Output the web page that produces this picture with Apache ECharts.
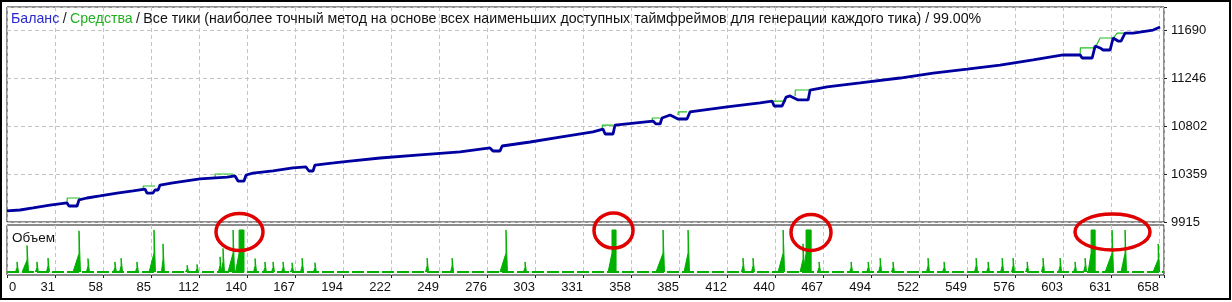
<!DOCTYPE html>
<html><head><meta charset="utf-8">
<script src="https://cdn.jsdelivr.net/npm/echarts@6/dist/echarts.min.js"></script>
<style>html,body{margin:0;padding:0;background:#fff}#c{width:1232px;height:302px}</style>
</head><body><div id="c"></div>
<script>
// X tick labels (trade number) and Y tick labels (balance)
const xTickLabels = ['0','31','58','85','112','140','167','194','222','249','276','303','331','358','385','412','440','467','494','522','549','576','603','631','658'];
const yTickLabels = ['9915','10359','10802','11246','11690'];
const yTickStep = 443.75;
const yMin = 9915;

// Balance curve: [trade index, balance]
const balance = [[3.7,10017],[11.1,10026],[18.5,10045],[28.1,10072],[37.8,10091],[38.9,10063],[43.5,10063],[44.6,10119],[49.1,10137],[56.5,10156],[66.2,10183],[75.3,10202],[82.1,10220],[83.2,10183],[86.6,10183],[87.8,10211],[89.5,10211],[90.6,10257],[97.9,10276],[113.3,10313],[128.7,10331],[133.2,10341],[134.9,10294],[138.3,10294],[139.5,10350],[143.4,10368],[154.8,10387],[166.1,10415],[173.5,10424],[175.2,10387],[177.5,10387],[178.6,10442],[189.3,10461],[198.5,10479],[215.6,10507],[238.3,10535],[261.0,10563],[278.0,10600],[279.7,10572],[283.7,10572],[284.9,10618],[300.8,10655],[317.8,10701],[336.5,10748],[342.2,10775],[343.4,10729],[347.9,10729],[349.0,10812],[370.6,10849],[372.3,10822],[374.6,10822],[375.7,10877],[380.3,10905],[384.8,10868],[389.9,10868],[391.6,10933],[412.7,10979],[431.4,11016],[438.2,11034],[439.4,10988],[443.9,10988],[446.2,11071],[448.4,11081],[453.0,11044],[458.7,11044],[459.8,11136],[469.5,11164],[488.2,11201],[510.9,11247],[529.7,11293],[549.0,11330],[567.7,11367],[586.5,11414],[603.5,11460],[613.2,11460],[614.3,11432],[620.0,11432],[621.7,11543],[624.5,11525],[626.2,11506],[630.2,11506],[631.9,11617],[634.7,11589],[636.4,11589],[638.7,11663],[643.3,11663],[654.6,11691],[658.6,11719]];

// Equity (only where it differs from balance), null breaks
const equity = [[37.8,10091],[37.9,10137],[45.2,10137],null,
  [81.0,10211],[81.1,10248],[87.8,10248],null,
  [121.8,10322],[121.9,10359],[132.1,10359],null,
  [341.7,10775],[341.8,10812],[347.9,10812],null,
  [370.1,10849],[370.2,10877],[374.6,10877],null,
  [384.8,10905],[384.9,10933],[389.9,10933],null,
  [438.2,11034],[446.2,11034],null,
  [451.3,11081],[451.4,11136],[459.8,11136],null,
  [549.0,11330],[551.8,11330],null,
  [613.2,11460],[613.3,11525],[621.7,11525],[624.5,11617],[631.9,11617],[634.2,11663],[639.9,11663]];

// Volume spikes: [start index, top start, top end, height]
const volumeSpikes = [[8.5,9.4,10.2,2.4],[12.3,15.1,15.9,6.3],[19.8,20.7,21.5,2.4],[26.1,27.0,27.8,3.3],[41.2,44.6,45.4,9.8],[48.8,49.7,50.5,3.2],[64.1,65.0,65.8,2.4],[67.6,68.5,69.3,3.3],[76.6,77.5,78.3,2.4],[84.4,87.2,88.0,10],[91.4,92.3,93.1,6.7],[105.1,106.0,106.8,1.6],[110.7,111.6,112.4,1.8],[123.8,124.7,125.5,3.6],[125.5,126.4,127.2,5.6],[129.2,132.1,132.9,10],[133.5,135.5,138.3,10],[143.7,144.6,145.4,3.2],[149.3,150.2,151.0,2.4],[153.9,154.8,155.6,2.4],[159.6,160.5,161.3,2.4],[164.7,165.6,166.4,2.2],[170.4,171.3,172.1,3.3],[177.7,178.6,179.4,2.2],[241.4,242.3,243.1,3.3],[255.6,256.5,257.3,3.3],[283.7,287.1,287.9,10],[297.0,297.9,298.7,2.4],[345.1,347.3,349.6,10],[372.3,376.3,377.1,10],[388.2,390.5,391.3,10],[420.8,421.7,422.5,3.3],[426.5,427.4,428.2,3.3],[441.6,444.5,445.3,10],[454.1,455.8,456.6,6.7],[456.0,457.5,460.4,10],[464.0,464.9,465.7,2.4],[482.2,483.1,483.9,2.4],[491.9,492.8,493.6,2.4],[498.7,499.6,500.4,3.3],[506.0,506.9,507.7,2.4],[525.9,526.8,527.6,3.3],[535.0,535.9,536.7,2.4],[553.2,554.1,554.9,3.3],[560.0,560.9,561.7,2.4],[568.0,568.9,569.7,3.3],[574.2,575.1,575.9,3.3],[582.2,583.1,583.9,2.4],[591.2,592.1,592.9,3.3],[600.9,601.8,602.6,3.3],[609.4,610.3,611.1,2.4],[615.1,616.0,616.8,3.3],[617.7,619.4,621.7,10],[627.4,631.3,632.1,10],[636.4,638.7,639.5,10],[654.6,657.5,658.3,6.7]];

const xMin = 3.7, xMax = 660.8;

const volLine = [];
volumeSpikes.forEach(s => {
  volLine.push([s[0],0],[s[1],s[3]*0.45],[s[1],s[3]],[s[2],s[3]],[s[2],0],null);
});

const chart = echarts.init(document.getElementById('c'), null, {renderer:'canvas'});
const font = 'Liberation Sans, Arial, sans-serif';
const gridLine = {show:true, lineStyle:{color:'#c4c4c4', type:[4,3], width:1}};
const yMaxUnits = 4.482;

chart.setOption({
  animation:false,
  backgroundColor:'#fff',
  grid:[
    {left:7, top:7, width:1157, height:215, show:true, borderColor:'#1a1a1a', borderWidth:1},
    {left:7, top:225, width:1157, height:50, show:true, borderColor:'#1a1a1a', borderWidth:1}
  ],
  xAxis:[
    {type:'value', gridIndex:0, min:xMin, max:xMax, show:false},
    {type:'value', gridIndex:1, min:xMin, max:xMax, show:false},
    {type:'value', gridIndex:0, min:0, max:24.104, interval:1, axisLine:{show:false}, axisTick:{show:false}, axisLabel:{show:false}, splitLine:gridLine},
    {type:'value', gridIndex:1, min:0, max:24.104, interval:1, position:'bottom',
      axisLine:{show:false}, axisTick:{show:true, length:3, lineStyle:{color:'#222'}},
      axisLabel:{show:true, align:'right', margin:6, fontSize:13, fontFamily:font, color:'#111',
        formatter:v => (Number.isInteger(v) && v>0) ? (xTickLabels[v]||'') : ''},
      splitLine:gridLine}
  ],
  yAxis:[
    {type:'value', gridIndex:0, min:yMin, max:yMin+yMaxUnits*yTickStep, show:false},
    {type:'value', gridIndex:0, position:'right', min:0, max:yMaxUnits, interval:1,
      axisLine:{show:false}, axisTick:{show:true, length:3, lineStyle:{color:'#222'}},
      axisLabel:{show:true, margin:7, fontSize:13, fontFamily:font, color:'#111',
        formatter:v => Number.isInteger(v) ? (yTickLabels[v]||'') : ''},
      splitLine:gridLine},
    {type:'value', gridIndex:1, min:-0.714, max:11.19, show:false}
  ],
  series:[
    {type:'line', xAxisIndex:1, yAxisIndex:2, data:[[xMin,0],[xMax,0]], symbol:'none',
      lineStyle:{color:'#00b000', width:2, type:[12,3]}, silent:true},
    {type:'line', xAxisIndex:1, yAxisIndex:2, data:volLine, symbol:'none', connectNulls:false,
      lineStyle:{color:'#00b000', width:1}, areaStyle:{color:'#00b000', opacity:1}, silent:true},
    {type:'line', xAxisIndex:0, yAxisIndex:0, data:equity, symbol:'none', connectNulls:false,
      lineStyle:{color:'#22c022', width:1.2}, silent:true},
    {type:'line', xAxisIndex:0, yAxisIndex:0, data:balance, symbol:'none',
      lineStyle:{color:'#0000a0', width:2.8}, silent:true}
  ],
  graphic:[
    {type:'rect', shape:{x:1, y:1, width:1229, height:298}, style:{fill:null, stroke:'#000', lineWidth:2}, z:100},
    {type:'text', left:11, top:12, style:{
      text:'{b|Баланс} {s|/} {g|Средства} {s|/} {t|Все тики (наиболее точный метод на основе всех наименьших доступных таймфреймов для генерации каждого тика) / 99.00%}',
      rich:{
        b:{fill:'#2a2ad0', fontSize:14.2, fontFamily:font},
        g:{fill:'#22b022', fontSize:14.2, fontFamily:font},
        s:{fill:'#222', fontSize:14.2, fontFamily:font},
        t:{fill:'#111', fontSize:14.2, fontFamily:font}
      }}, z:50},
    {type:'text', left:12, top:231, style:{text:'Объем', fontSize:13.5, fontFamily:font, fill:'#111'}, z:50},
    {type:'text', left:9, top:281, style:{text:'0', fontSize:13, fontFamily:font, fill:'#111'}, z:50},
    {type:'ellipse', shape:{cx:239.5, cy:232, rx:23.5, ry:18.5}, style:{fill:null, stroke:'#e00000', lineWidth:3.5}, z:60},
    {type:'ellipse', shape:{cx:613.5, cy:230.5, rx:19.5, ry:17.5}, style:{fill:null, stroke:'#e00000', lineWidth:3.5}, z:60},
    {type:'ellipse', shape:{cx:811, cy:232.5, rx:20, ry:18}, style:{fill:null, stroke:'#e00000', lineWidth:3.5}, z:60},
    {type:'ellipse', shape:{cx:1112.5, cy:232, rx:37.5, ry:18}, style:{fill:null, stroke:'#e00000', lineWidth:3.5}, z:60}
  ]
});
</script>
</body></html>
